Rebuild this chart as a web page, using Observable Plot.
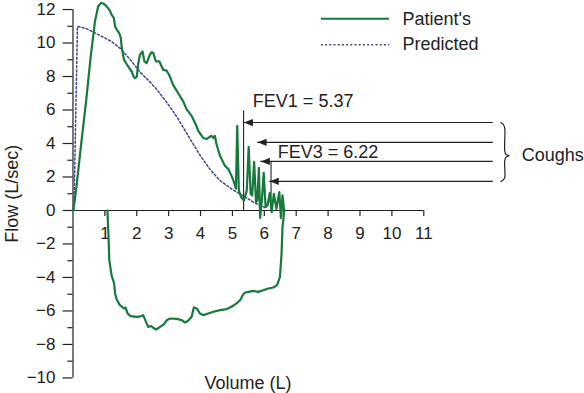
<!DOCTYPE html>
<html><head><meta charset="utf-8">
<script src="https://cdn.jsdelivr.net/npm/d3@7"></script>
<script src="https://cdn.jsdelivr.net/npm/@observablehq/plot@0.6"></script>
<style>body{margin:0;background:#fff} svg{display:block}</style>
</head><body><div id="chart"></div>
<script>
// Patient's expiratory limb (volume L, flow L/sec)
const expVolume = [0.00,0.05,0.12,0.27,0.41,0.55,0.69,0.79,0.88,0.96,1.05,1.15,1.21,1.28,1.32,1.37,1.45,1.50,1.53,1.60,1.73,1.84,1.90,1.95,2.00,2.05,2.10,2.18,2.24,2.31,2.41,2.47,2.52,2.60,2.71,2.83,2.94,3.04,3.14,3.30,3.46,3.56,3.72,3.82,3.93,4.08,4.19,4.29,4.35,4.40,4.45,4.50,4.56,4.61,4.66,4.76,4.87,4.97,5.03,5.08,5.11,5.15,5.20,5.27,5.36,5.45,5.51,5.57,5.62,5.68,5.74,5.78,5.83,5.87,5.93,5.98,6.04,6.10,6.17,6.23,6.30,6.38,6.47,6.52,6.57,6.62];
const expFlow   = [0.0,0.5,1.6,4.2,6.5,9.1,11.3,12.2,12.4,12.35,12.2,11.95,11.7,11.5,11.0,10.8,10.6,10.3,9.7,9.0,8.6,8.3,8.0,7.9,8.0,8.8,9.3,9.5,8.9,8.8,9.3,9.45,9.4,8.9,8.9,8.4,8.35,8.0,7.5,7.0,6.5,6.05,5.65,5.26,4.76,4.33,4.27,4.4,4.46,4.33,4.45,3.97,3.57,3.27,3.08,2.68,2.48,2.08,1.79,1.49,1.3,5.06,1.2,0.8,0.6,1.2,3.8,1.0,0.9,2.9,0.5,0.6,2.55,-0.45,0.8,2.25,0.2,0.3,1.05,-0.1,1.0,0.1,1.1,-0.45,0.9,0.0];
// Patient's inspiratory limb
const inspVolume = [6.62,6.60,6.57,6.54,6.49,6.40,6.28,6.12,5.97,5.81,5.65,5.50,5.40,5.34,5.24,5.13,4.97,4.82,4.61,4.40,4.24,4.08,3.98,3.88,3.79,3.72,3.61,3.51,3.41,3.25,3.04,2.94,2.85,2.73,2.62,2.54,2.45,2.36,2.29,2.20,2.15,2.00,1.81,1.71,1.65,1.60,1.47,1.37,1.32,1.29,1.21,1.14,1.11,1.08];
const inspFlow   = [0.0,-0.5,-1.0,-2.58,-3.97,-4.46,-4.6,-4.66,-4.76,-4.86,-4.8,-4.86,-4.9,-5.0,-5.36,-5.55,-5.75,-5.89,-5.95,-6.05,-6.15,-6.25,-6.15,-5.85,-5.79,-6.35,-6.59,-6.69,-6.55,-6.47,-6.45,-6.55,-6.8,-6.95,-7.1,-7.04,-6.9,-6.95,-6.65,-6.25,-6.31,-6.35,-6.31,-6.15,-5.8,-5.85,-5.65,-5.32,-4.96,-4.36,-3.87,-2.98,-1.39,0.0];
// Predicted curve
const predVolume = [0.03,0.14,0.43,0.85,1.20,1.50,1.80,2.11,2.40,2.64,3.00,3.27,3.60,4.00,4.30,4.60,5.00,5.40,5.70,6.05];
const predFlow   = [0.0,11.0,10.85,10.45,10.1,9.65,9.0,8.25,7.7,7.2,6.3,5.55,4.5,3.25,2.45,1.8,1.25,0.8,0.45,0.15];
// Axes
const xTicks = [1,2,3,4,5,6,7,8,9,10,11];
const yMajorTicks = [-10,-8,-6,-4,-2,0,2,4,6,8,10,12];
const yMinorTicks = [-9,-7,-5,-3,-1,1,3,5,7,9,11];
// Annotations
const fevLabels = ["FEV1 = 5.37", "FEV3 = 6.22"];
const fevVolume = [5.35, 6.21];
const fevTop = [5.95, 2.93];
const fevLabelX = [5.64, 6.42];
const fevLabelY = [6.55, 3.47];
const coughY = [5.25, 4.07, 2.93, 1.74];
const coughTip = [5.36, 5.79, 5.89, 6.17];
const coughEnd = 13.18;
const braceX = [13.42,13.50,13.54,13.54,13.58,13.68,13.58,13.54,13.54,13.50,13.42];
const braceY = [5.25,5.12,4.9,3.55,3.35,3.27,3.19,2.99,1.98,1.84,1.73];
const legendLabels = ["Patient's", "Predicted"];
const legendY = [11.45, 9.9];

const green = "#17793d";
const navy = "#434488";
const ink = "#222";

const patient = [
  ...expVolume.map((v,i)=>({v, f: expFlow[i]})),
  ...inspVolume.map((v,i)=>({v, f: inspFlow[i]}))
];
const predicted = predVolume.map((v,i)=>({v, f: predFlow[i]}));
const fev = fevLabels.map((t,i)=>({t, v: fevVolume[i], top: fevTop[i], lx: fevLabelX[i], ly: fevLabelY[i]}));
const coughs = coughY.map((y,i)=>({y, tip: coughTip[i], end: coughEnd}));
const brace = braceX.map((x,i)=>({x, y: braceY[i]}));
const legend = legendLabels.map((t,i)=>({t, y: legendY[i]}));
const fmt = d => d < 0 ? "\u2212" + Math.abs(d) : String(d);
const leftArrow = {draw(ctx){ ctx.moveTo(0,0); ctx.lineTo(9,-3.6); ctx.lineTo(9,3.6); ctx.closePath(); }};

const chart = Plot.plot({
  width: 584, height: 393,
  marginLeft: 0, marginRight: 0, marginTop: 0, marginBottom: 0,
  x: {domain: [-2.273, 16.04], axis: null},
  y: {domain: [-10.93, 12.54], axis: null},
  style: {fontFamily: "'Liberation Sans', Arial, Helvetica, sans-serif", fontSize: "17px", background: "#fff", color: ink},
  marks: [
    // axes
    Plot.ruleY([0], {x1: 0, x2: 11, stroke: ink, strokeWidth: 1.2}),
    Plot.ruleX([0], {y1: -10, y2: 12, stroke: ink, strokeWidth: 1.2}),
    Plot.ruleX(xTicks, {x: d=>d, y1: 0, y2: -0.36, stroke: ink, strokeWidth: 1.2}),
    Plot.text(xTicks, {x: d=>d, y: 0, dy: 23.5, text: d=>String(d), fontSize: 17, fill: ink}),
    Plot.ruleY(yMajorTicks, {y: d=>d, x1: -0.31, x2: 0, stroke: ink, strokeWidth: 1.2}),
    Plot.ruleY(yMinorTicks, {y: d=>d, x1: -0.16, x2: 0, stroke: ink, strokeWidth: 1.2}),
    Plot.text(yMajorTicks, {x: 0, y: d=>d, dx: -17.5, textAnchor: "end", text: fmt, fontSize: 17, fill: ink}),
    Plot.text(["Flow (L/sec)"], {x: -1.9, y: 1.0, rotate: -90, text: d=>d, fontSize: 18, fill: ink}),
    Plot.text(["Volume (L)"], {x: 5.49, y: -10.33, text: d=>d, fontSize: 18, fill: ink}),
    // FEV markers
    Plot.ruleX(fev, {x: "v", y1: 0, y2: "top", stroke: ink, strokeWidth: 1.1}),
    Plot.text(fev, {x: "lx", y: "ly", text: "t", textAnchor: "start", fontSize: 18, fill: ink}),
    // cough arrows
    Plot.ruleY(coughs, {y: "y", x1: "tip", x2: "end", stroke: ink, strokeWidth: 1.1}),
    Plot.dot(coughs, {x: "tip", y: "y", symbol: leftArrow, fill: ink, stroke: "none"}),
    Plot.line(brace, {x: "x", y: "y", curve: "catmull-rom", stroke: ink, strokeWidth: 1.2}),
    Plot.text(["Coughs"], {x: 14.07, y: 3.27, text: d=>d, textAnchor: "start", fontSize: 18, fill: ink}),
    // curves
    Plot.line(predicted, {x: "v", y: "f", stroke: navy, strokeWidth: 1.5, strokeDasharray: "2,2.2"}),
    Plot.line(patient, {x: "v", y: "f", stroke: green, strokeWidth: 2.2, strokeLinejoin: "round"}),
    // legend
    Plot.ruleY(legend.slice(0,1), {y: "y", x1: 7.79, x2: 9.93, stroke: green, strokeWidth: 2.2}),
    Plot.ruleY(legend.slice(1), {y: "y", x1: 7.79, x2: 9.93, stroke: navy, strokeWidth: 1.5, strokeDasharray: "2,2.2"}),
    Plot.text(legend, {x: 10.33, y: "y", text: "t", textAnchor: "start", fontSize: 18, fill: ink})
  ]
});
document.getElementById("chart").appendChild(chart);
</script>
</body></html>
